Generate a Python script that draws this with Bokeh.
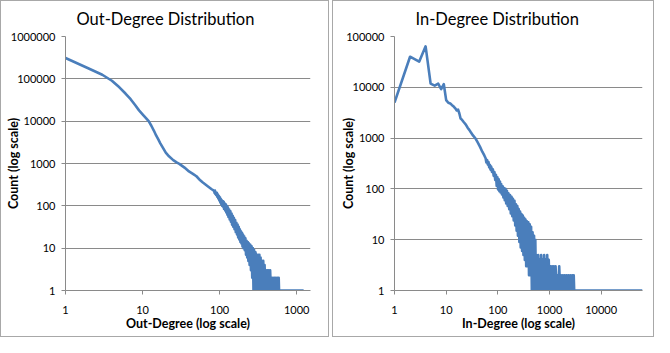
from bokeh.plotting import figure
from bokeh.layouts import row
from bokeh.models import FixedTicker, Range1d
from bokeh.embed import file_html
from bokeh.resources import INLINE

# ---------------- data ----------------
out_degree = [1, 2, 3, 4, 5, 6, 7, 8, 9, 10, 11, 12, 13, 14, 15, 16, 17, 18, 20, 22, 25, 28, 30,
              35, 40, 45, 50, 56, 60, 70, 78, 83,
              85, 86, 87, 88, 89, 90, 92, 93, 95, 96, 98, 99, 101, 102, 104, 105, 107, 108, 110, 111,
              113, 114, 116, 118, 120, 122, 124, 126, 128, 130, 133, 135, 138, 140, 143, 145, 148, 150,
              153, 156, 159, 162, 165, 168, 171, 174, 177, 180, 183, 186, 189, 192, 195, 198, 201, 204,
              208, 212, 216, 220, 224, 228, 232, 236, 240, 245, 250, 255, 260, 265, 270, 275, 280, 286,
              292, 298, 304, 310, 316, 322, 328, 334, 340, 347, 354, 361, 368, 375, 383, 391, 400, 408,
              416, 425, 434, 443, 452, 462, 472, 482, 492, 503, 514, 525, 537, 549, 561, 573, 584, 590,
              1230]
out_count = [310000, 175000, 125000, 90000, 63000, 45000, 33000, 24000, 18000, 14500, 12000, 10000,
             7800, 6000, 4600, 3700, 3000, 2500, 1800, 1480, 1200, 1050, 980,
             800, 650, 570, 500, 400, 360, 290, 250, 233,
             220, 200, 230, 190, 210, 180, 205, 165, 185, 150, 170, 135, 160, 120, 145, 110, 135, 100,
             130, 95, 125, 85, 115, 78, 108, 70, 100, 62, 92, 55, 82, 48, 74, 42, 66, 36, 58, 32,
             52, 28, 46, 24, 40, 21, 36, 18, 32, 16, 28, 14, 25, 13, 23, 11, 21, 10,
             19, 9, 17, 7, 15, 6, 14, 5, 13, 4, 12, 3, 11, 2, 10, 1, 9, 1,
             8, 1, 7, 1, 7, 1, 7, 1, 6, 1, 5, 1, 5, 1, 4, 1, 3, 1,
             3, 1, 3, 1, 3, 1, 2, 1, 2, 1, 2, 1, 2, 1, 2, 1, 2, 1,
             1]

in_degree = [1, 2, 3, 4, 5, 6, 7, 8, 9, 10, 11, 12, 13, 14, 15, 16, 17, 18, 19, 20, 22, 24, 26, 28,
             30, 33, 37, 40, 45, 50, 55, 58,
             60, 62, 64, 66, 68, 70, 72, 74, 77, 80, 83, 86, 89, 92, 95, 98, 101, 104, 107, 110, 113,
             116, 120, 124, 128, 132, 136, 140, 145, 150, 155, 160, 166, 172, 178, 184, 190, 196, 203,
             210, 217, 224, 231, 238, 245, 253, 261, 269, 277, 286, 295, 304, 313, 323, 333, 343, 354,
             365, 377, 389, 401, 414, 427, 440, 455, 470, 486, 502, 518, 531, 548, 566, 585, 605, 625,
             646, 668, 690, 713, 737, 762, 788, 815, 843, 872, 902, 933, 966, 1000, 1040, 1080, 1120,
             1165, 1210, 1260, 1310, 1365, 1420, 1480, 1540, 1605, 1670, 1740, 1815, 1890, 1970, 2055,
             2140, 2230, 2325, 2425, 2530, 2640, 2760, 2880, 2940, 3000, 63000]
in_count = [5000, 40000, 32000, 64000, 11800, 10800, 11800, 9200, 11500, 5600, 4950, 4800, 4450,
            4170, 3850, 3500, 3650, 3050, 2430, 2330, 2050, 1850, 1600, 1450,
            1300, 1130, 980, 850, 680, 540, 450, 400,
            330, 370, 300, 340, 265, 300, 240, 275, 215, 245, 180, 215, 150, 190, 115, 170, 98, 155,
            90, 140, 85, 125, 78, 112, 68, 104, 60, 100, 52, 92, 46, 82, 40, 76, 33, 70, 29, 64, 24,
            58, 19, 50, 15, 46, 12, 40, 9, 36, 7, 32, 6, 30, 5, 27, 4, 25, 3,
            23, 3, 22, 2, 20, 2, 18, 1, 14, 1, 12, 1, 10, 1, 5, 1, 5, 1,
            4, 1, 5, 1, 4, 1, 5, 1, 4, 1, 5, 1, 4, 1, 3, 1, 3,
            1, 3, 1, 3, 1, 2, 1, 3, 1, 2, 1, 2, 1, 2, 1,
            2, 1, 2, 1, 2, 1, 2, 1, 2, 1, 1]

out_x_ticks = [1, 10, 100, 1000]
out_x_labels = ["1", "10", "100", "1000"]
out_y_ticks = [1, 10, 100, 1000, 10000, 100000, 1000000]
out_y_labels = ["1", "10", "100", "1000", "10000", "100000", "1000000"]
in_x_ticks = [1, 10, 100, 1000, 10000]
in_x_labels = ["1", "10", "100", "1000", "10000"]
in_y_ticks = [1, 10, 100, 1000, 10000, 100000]
in_y_labels = ["1", "10", "100", "1000", "10000", "100000"]

# ---------------- style ----------------
FONT = "Lato"
LINE = "#4a7ebb"
GRID = "#8a8a8a"
H = 337


def make(title, xlabel, xs, ys, xt, xl, yt, yl, xmax, ymax, w, left, right, toff):
    p = figure(width=w, height=H, x_axis_type="log", y_axis_type="log",
               x_range=Range1d(1, xmax), y_range=Range1d(1, ymax),
               output_backend="svg", toolbar_location=None,
               min_border_left=left, min_border_right=right,
               min_border_top=35, min_border_bottom=48)
    p.styles = {"border": "1px solid #a8a8a8", "box-sizing": "border-box"}
    p.outline_line_color = None
    p.background_fill_color = "white"
    p.border_fill_color = "white"

    p.title.text = title
    p.title.text_font = FONT
    p.title.text_font_size = "16.5px"
    p.title.text_font_style = "normal"
    p.title.text_color = "black"
    p.title.align = "left"
    p.title.vertical_align = "top"
    p.title.offset = toff
    p.title.standoff = 12

    p.line(xs, ys, line_color=LINE, line_width=2.6, line_join="round")

    p.xaxis.ticker = FixedTicker(ticks=xt)
    p.xaxis.major_label_overrides = {t: s for t, s in zip(xt, xl)}
    p.yaxis.ticker = FixedTicker(ticks=yt)
    p.yaxis.major_label_overrides = {t: s for t, s in zip(yt, yl)}
    p.ygrid.ticker = FixedTicker(ticks=yt)
    p.xgrid.grid_line_color = None
    p.ygrid.grid_line_color = GRID
    p.ygrid.grid_line_width = 1

    for ax in (p.xaxis, p.yaxis):
        ax.axis_line_color = GRID
        ax.major_tick_line_color = GRID
        ax.major_tick_out = 4
        ax.major_tick_in = 0
        ax.minor_tick_line_color = None
        ax.major_label_text_font = FONT
        ax.major_label_text_font_size = "11px"
        ax.major_label_text_color = "black"
        ax.axis_label_text_font = FONT
        ax.axis_label_text_font_size = "12.5px"
        ax.axis_label_text_font_style = "bold"
        ax.axis_label_text_color = "black"
    p.xaxis.axis_label = xlabel
    p.yaxis.axis_label = "Count (log scale)"
    p.xaxis.major_label_standoff = 11
    p.yaxis.major_label_standoff = 6
    p.xaxis.axis_label_standoff = -1
    p.yaxis.axis_label_standoff = -13
    return p


p1 = make("Out-Degree Distribution", "Out-Degree (log scale)", out_degree, out_count,
          out_x_ticks, out_x_labels, out_y_ticks, out_y_labels, 1510, 1000000,
          329, 64, 20, 11)
p2 = make("In-Degree Distribution", "In-Degree (log scale)", in_degree, in_count,
          in_x_ticks, in_x_labels, in_y_ticks, in_y_labels, 63000, 100000,
          322, 61, 13, 21)

layout = row(p1, p2, spacing=3)
open("out.html", "w").write(file_html(layout, INLINE))
